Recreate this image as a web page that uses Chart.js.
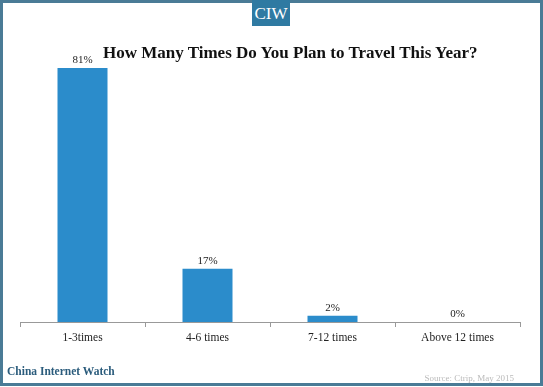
<!DOCTYPE html>
<html><head><meta charset="utf-8">
<script src="https://cdn.jsdelivr.net/npm/chart.js@4.4.0/dist/chart.umd.min.js"></script>
<style>
html,body{margin:0;padding:0;background:#fff;}
#wrap{position:relative;width:543px;height:387px;overflow:hidden;background:#fff;}
#frame{position:absolute;left:0;top:0;width:537px;height:380px;border:3px solid #4a7b96;border-top-width:3px;}
#c{position:absolute;left:0;top:0;}
#badge{position:absolute;left:252px;top:0;width:38px;height:26px;background:#2f7aa2;color:#fff;font-family:"Liberation Serif","Times New Roman",serif;font-size:17px;line-height:27px;text-align:center;}
#title{position:absolute;left:103px;top:43px;font-family:"Liberation Serif","Times New Roman",serif;font-weight:bold;font-size:17px;color:#111;white-space:nowrap;letter-spacing:0px;}
#brand{position:absolute;left:7px;top:365px;font-family:"Liberation Serif","Times New Roman",serif;font-weight:bold;font-size:11.5px;color:#2b5c7c;white-space:nowrap;}
#src{position:absolute;right:29px;top:373px;font-family:"Liberation Serif","Times New Roman",serif;font-size:9px;color:#bbb;white-space:nowrap;}
</style></head>
<body>
<div id="wrap">
<canvas id="c" width="543" height="387"></canvas>
<div id="frame"></div>
<div id="badge">CIW</div>
<div id="title">How Many Times Do You Plan to Travel This Year?</div>
<div id="brand">China Internet Watch</div>
<div id="src">Source: Ctrip, May 2015</div>
</div>
<script>
const categories = ["1-3times", "4-6 times", "7-12 times", "Above 12 times"];
const values = [81, 17, 2, 0];
const valueLabels = ["81%", "17%", "2%", "0%"];

const labelPlugin = {
  id: 'valLabels',
  afterDatasetsDraw(chart) {
    const ctx = chart.ctx;
    const meta = chart.getDatasetMeta(0);
    ctx.save();
    ctx.font = '11px "Liberation Serif", "Times New Roman", serif';
    ctx.fillStyle = '#222';
    ctx.textAlign = 'center';
    ctx.textBaseline = 'bottom';
    meta.data.forEach((bar, i) => {
      ctx.fillText(valueLabels[i], bar.x, bar.y - 2);
    });
    ctx.restore();
  }
};

new Chart(document.getElementById('c'), {
  type: 'bar',
  data: {
    labels: categories,
    datasets: [{
      data: values,
      backgroundColor: '#2b8ccb',
      borderWidth: 0,
      categoryPercentage: 1.0,
      barPercentage: 0.4
    }]
  },
  options: {
    responsive: false,
    animation: false,
    layout: { padding: { left: 20, right: 23, top: 68, bottom: 0 } },
    plugins: { legend: { display: false }, tooltip: { enabled: false } },
    scales: {
      y: { display: false, min: 0, max: 81 },
      x: {
        afterFit(scale) { scale.height = 65; },
        grid: { display: true, drawOnChartArea: false, drawTicks: true, tickLength: 5, color: '#999', offset: true },
        border: { display: true, color: '#999', width: 1 },
        ticks: { color: '#222', padding: 4, font: { family: '"Liberation Serif", "Times New Roman", serif', size: 11.5 } }
      }
    }
  },
  plugins: [labelPlugin]
});
</script>
</body></html>
